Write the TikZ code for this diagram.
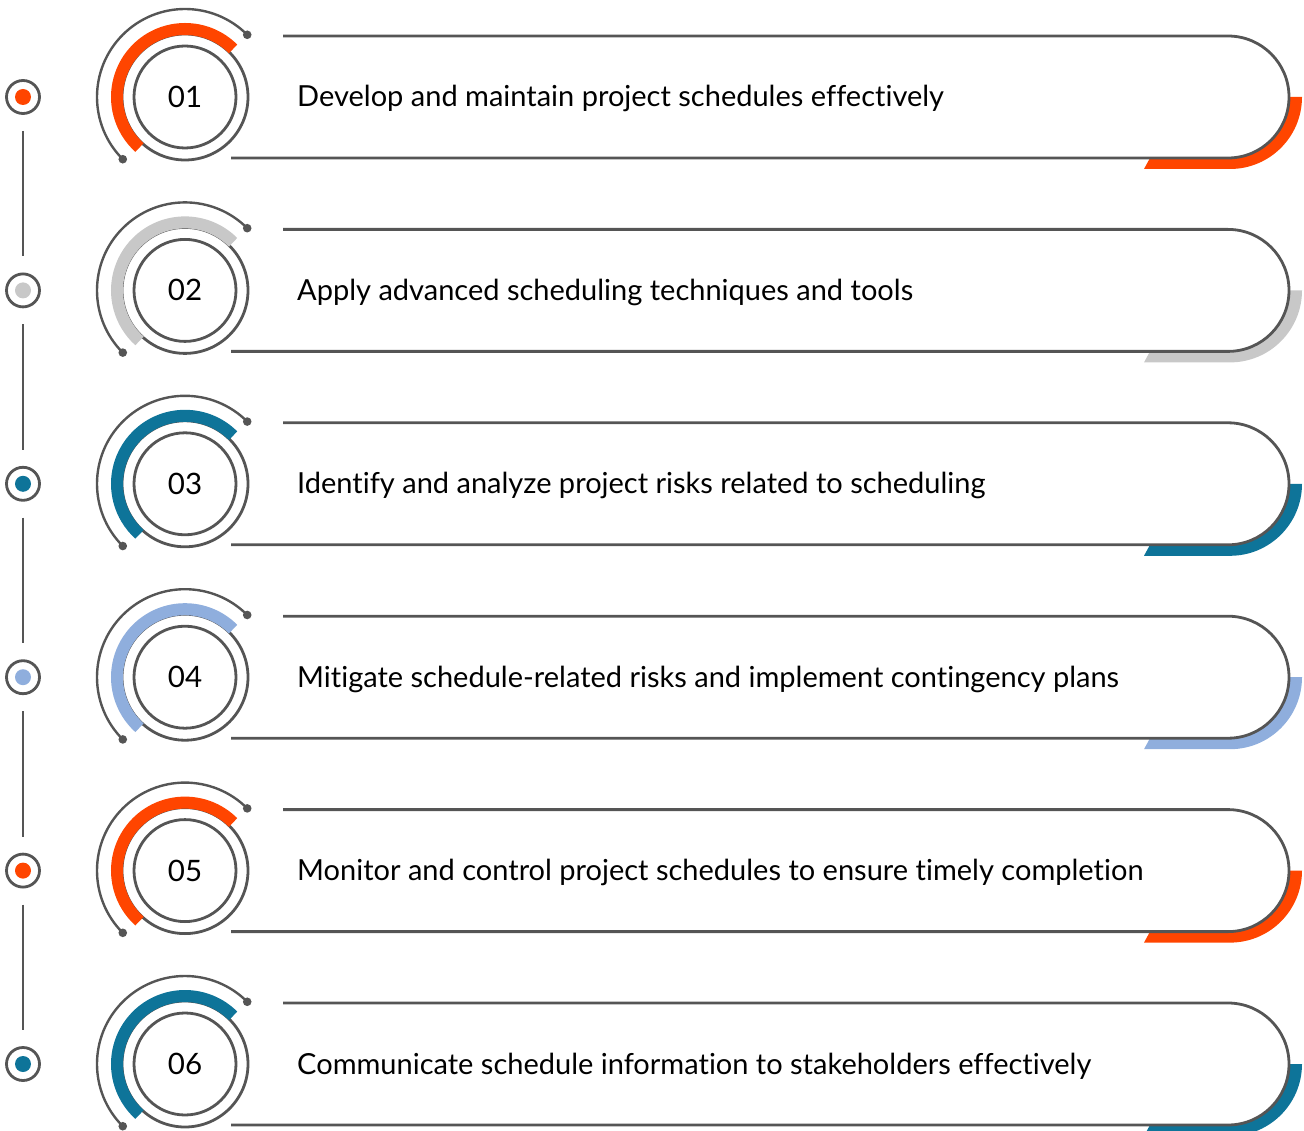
\documentclass[tikz,border=0pt]{standalone}
\usepackage{fontspec}
\setmainfont{Lato}[Ligatures=NoCommon]
\definecolor{lineg}{HTML}{555555}
\definecolor{accorange}{HTML}{FF4500}
\definecolor{accgrey}{HTML}{C8C8C8}
\definecolor{accteal}{HTML}{0E7499}
\definecolor{accblue}{HTML}{8FAEDD}
\tikzset{
  ring/.style={draw=lineg, line width=2.8},
  numcircle/.style={circle, ring, minimum size=102, inner sep=0pt, font=\fontsize{29.5}{34}\selectfont},
  dotcircle/.style={circle, ring, minimum size=33, inner sep=0pt},
  itemtext/.style={anchor=base west, inner sep=0pt, font=\fontsize{29}{34}\selectfont},
  timeline/.style={draw=lineg, line width=2.8, shorten <=16, shorten >=16},
}
\begin{document}
\begin{tikzpicture}[x=1pt, y=1pt]
\useasboundingbox (0,0) rectangle (1304,-1131);

\foreach \i/\yy/\col/\txt in {
  1/97/accorange/{Develop and maintain project schedules effectively},
  2/290.4/accgrey/{Apply advanced scheduling techniques and tools},
  3/483.8/accteal/{Identify and analyze project risks related to scheduling},
  4/677.2/accblue/{Mitigate schedule-related risks and implement contingency plans},
  5/870.6/accorange/{Monitor and control project schedules to ensure timely completion},
  6/1064/accteal/{Communicate schedule information to stakeholders effectively}}{

% Timeline dot
\node[dotcircle] (d\i) at (23,-\yy) {};
\fill[\col] (d\i) circle (8);

% Number circle
\node[numcircle] (n\i) at (185,-\yy) {0\i};
\draw[ring] (n\i) circle (63);
\draw[\col, line width=12] ([shift={(45:68)}]n\i.center) arc[start angle=45, end angle=228, radius=68];
\draw[draw=lineg, line width=2.4] ([shift={(45:88)}]n\i.center) coordinate (a\i)
  arc[start angle=45, end angle=225, radius=88] coordinate (b\i);
\fill[lineg] (a\i) circle (4.3) (b\i) circle (4.3);

% Swoosh and capsule
\fill[\col] (1144,-\yy-72) -- (1230,-\yy-72) arc[start angle=-90, end angle=0, radius=72]
  -- (1289,-\yy) arc[start angle=0, end angle=-90, radius=61] -- (1150,-\yy-61) -- cycle;
\draw[ring] (283,-\yy+61) -- (1228,-\yy+61) arc[start angle=90, end angle=-90, radius=61] -- (231,-\yy-61);

% Label
\node[itemtext] (t\i) at (297,-\yy-10) {\txt};
}

% Timeline
\foreach \i [evaluate=\i as \j using int(\i+1)] in {1,...,5}
  \draw[timeline] (d\i) -- (d\j);

\end{tikzpicture}
\end{document}
